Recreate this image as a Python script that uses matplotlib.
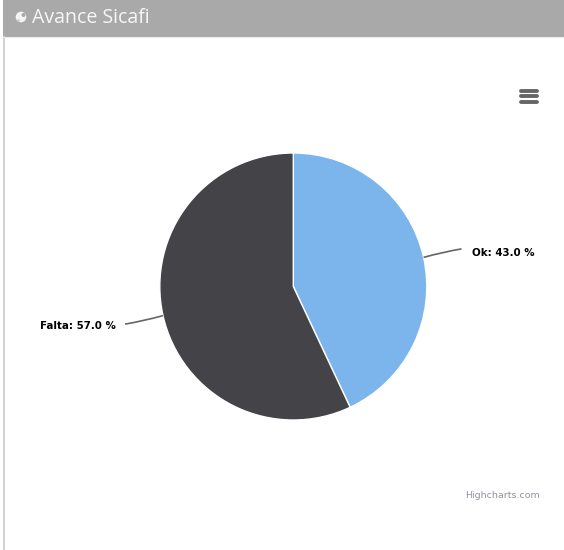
import numpy as np
import matplotlib
matplotlib.use("Agg")
import matplotlib.pyplot as plt
from matplotlib.patches import Circle, Rectangle, PathPatch
from matplotlib.path import Path

WIDTH, HEIGHT = 564, 550

title = "Avance Sicafi"
categories = ["Ok", "Falta"]
values = [43.0, 57.0]
colors = ["#7cb5ec", "#434348"]
credit = "Highcharts.com"

fig = plt.figure(figsize=(WIDTH / 100, HEIGHT / 100), dpi=100, facecolor="white")

# Page furniture, laid out in pixel units with the origin at the top left
page = fig.add_axes([0, 0, 1, 1])
page.set_xlim(0, WIDTH)
page.set_ylim(HEIGHT, 0)
page.axis("off")
page.add_patch(Rectangle((3, 0), WIDTH - 3, 36.5, facecolor="#a9a9a9", edgecolor="none"))
page.plot([3.5, 3.5], [36, HEIGHT], color="#c9c9c9", lw=1.2, solid_capstyle="butt")
page.plot([3, WIDTH], [37, 37], color="#ececec", lw=0.8)

# Globe icon beside the heading
page.add_patch(Circle((21, 17), 5.3, facecolor="#f4f4f4", edgecolor="none"))
page.add_patch(Circle((23.5, 15), 2.0, facecolor="#a9a9a9", edgecolor="none"))
page.add_patch(Circle((18.5, 20.5), 1.3, facecolor="#c8c8c8", edgecolor="none"))
page.text(32, 17.8, title, color="#f7f7f7", fontsize=14.05, family="Open Sans",
          va="center", ha="left")

# Export menu symbol
for y in (90.5, 96, 101.5):
    page.plot([521, 536.5], [y, y], color="#666666", lw=2.8, solid_capstyle="round")

page.text(540, 496, credit, color="#8f939c", fontsize=6.8, family="DejaVu Sans",
          va="center", ha="right")

# Pie, with radius 1 spanning 133.5 pixels around its centre
cx, cy, radius = 293.3, 286.5, 133.5
pie_ax = fig.add_axes([(cx - radius) / WIDTH, 1 - (cy + radius) / HEIGHT,
                       2 * radius / WIDTH, 2 * radius / HEIGHT])
wedges, _ = pie_ax.pie(values, colors=colors, startangle=90, counterclock=False, radius=1,
                       wedgeprops={"edgecolor": "white", "linewidth": 1.0})
pie_ax.set_xlim(-1, 1)
pie_ax.set_ylim(-1, 1)
pie_ax.set_aspect("equal")
pie_ax.axis("off")

# Slightly curved connectors and bold labels at each slice's middle angle
for wedge, name, value in zip(wedges, categories, values):
    mid = np.deg2rad((wedge.theta1 + wedge.theta2) / 2)
    ex, ey = np.cos(mid), np.sin(mid)
    side = 1 if ex > 0 else -1
    x0, y0 = ex, ey
    x2, y2 = x0 + side * 38 / radius, y0 + side * 8.5 / radius
    x1, y1 = x0 + side * 20 / radius, y0 + side * 5.5 / radius
    pie_ax.add_patch(PathPatch(Path([(x0, y0), (x1, y1), (x2, y2)],
                                    [Path.MOVETO, Path.CURVE3, Path.CURVE3]),
                               facecolor="none", edgecolor="#666666", lw=1.2, clip_on=False))
    drop = 4 if side > 0 else 2
    gap = 10 if side > 0 else 9
    pie_ax.text(x2 + side * gap / radius, y2 - drop / radius, f"{name}: {value:.1f} %",
                color="black", fontsize=7.4, fontweight="bold", family="DejaVu Sans",
                ha="left" if side > 0 else "right", va="center", clip_on=False)

fig.savefig("out.png", dpi=100, facecolor="white")
